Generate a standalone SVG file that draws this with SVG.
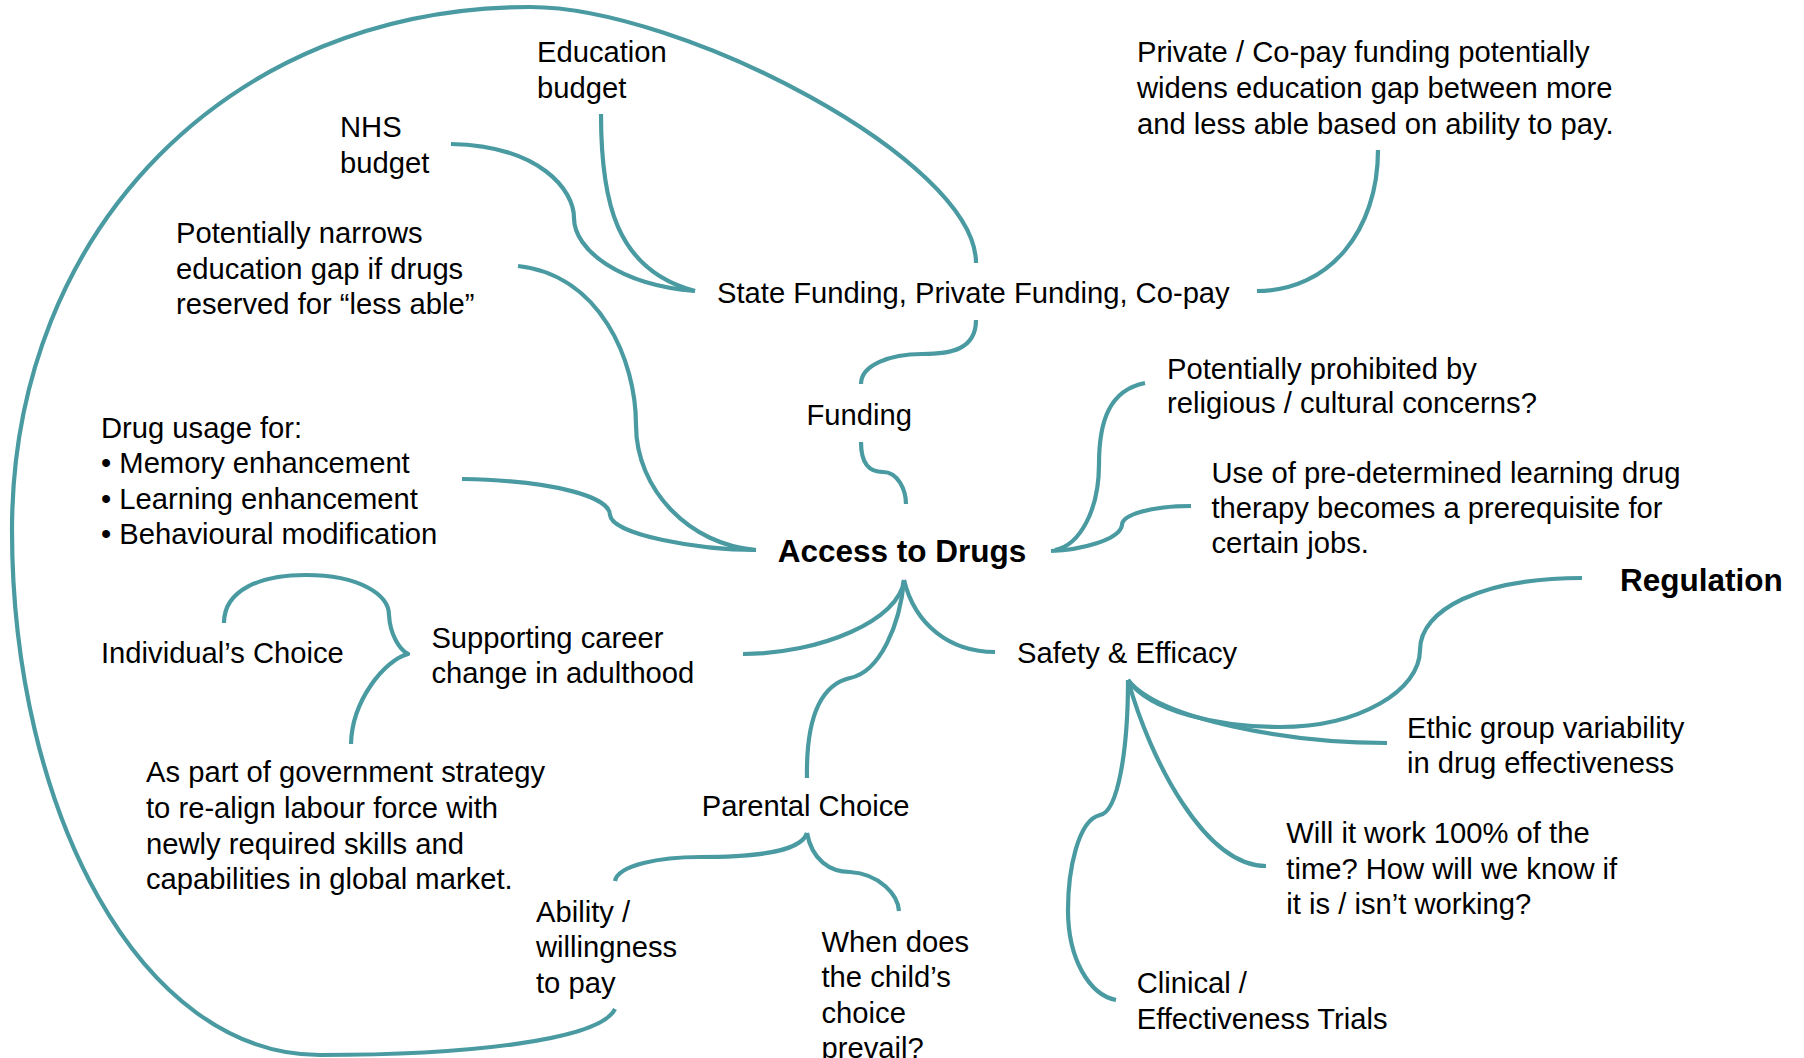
<svg xmlns="http://www.w3.org/2000/svg" width="1804" height="1058" viewBox="0 0 1804 1058">
<style>
  .t { font-family: "Liberation Sans", Arial, sans-serif; font-size: 29.2px; fill: #000; }
  .b { font-family: "Liberation Sans", Arial, sans-serif; font-size: 31.5px; font-weight: bold; fill: #000; }
  .c { fill: none; stroke: #4A9AA2; stroke-width: 4.2; stroke-linecap: butt; stroke-linejoin: round; }
</style>
<rect width="1804" height="1058" fill="#fff"/>
<g id="connectors">
  <path class="c" d="M615,1009 C600,1040 470,1055 320,1055 C140,1055 12,810 12,530 C12,230 230,7 530,7 C680,7 976,160 976,263"/>
  <path class="c" d="M601,114 C601,200 615,270 695,291"/>
  <path class="c" d="M451,144 C540,146 574,190 574,218 C574,250 620,285 695,291"/>
  <path class="c" d="M518,266 C600,275 636,360 636,425 C636,490 690,545 756,550"/>
  <path class="c" d="M462,479 C560,481 610,498 610,515 C612,535 700,550 756,550"/>
  <path class="c" d="M976,320 C976,350 950,354 922,354 C890,354 861,365 861,384"/>
  <path class="c" d="M861,442 C861,465 870,472 883,472 C898,472 906,490 906,504"/>
  <path class="c" d="M1378,150 C1378,230 1330,291 1257,291"/>
  <path class="c" d="M1145,383 C1110,390 1099,420 1099,464 C1099,510 1080,545 1055,550"/>
  <path class="c" d="M1191,506 C1150,506 1122,515 1122,525 C1120,540 1080,550 1051,551"/>
  <path class="c" d="M743,654 C820,654 900,620 904,580"/>
  <path class="c" d="M807,778 C806,720 820,685 850,678 C880,672 900,625 904,580"/>
  <path class="c" d="M904,580 C915,625 950,652 995,652"/>
  <path class="c" d="M807,833 C800,855 740,857 700,857 C660,857 618,865 615,881"/>
  <path class="c" d="M807,833 C812,860 830,872 850,872 C880,874 898,895 899,911"/>
  <path class="c" d="M224,623 C224,590 260,575 306,575 C360,575 389,595 389,615 C390,635 400,650 408,654 C385,660 352,700 351,744"/>
  <path class="c" d="M1128,680 C1150,712 1220,727 1280,727 C1360,727 1420,690 1420,650 C1420,610 1480,578 1582,578"/>
  <path class="c" d="M1128,680 C1160,720 1290,743 1387,743"/>
  <path class="c" d="M1128,680 C1150,760 1205,866 1266,866"/>
  <path class="c" d="M1128,680 C1128,750 1118,812 1100,815 C1078,820 1068,870 1068,910 C1068,960 1090,995 1116,1000"/>
</g>
<g id="education-budget"><text class="t" x="537" y="62">Education</text><text class="t" x="537" y="98">budget</text></g>
<g id="nhs-budget"><text class="t" x="340" y="137">NHS</text><text class="t" x="340" y="173">budget</text></g>
<g id="narrows-gap"><text class="t" x="176" y="243">Potentially narrows</text><text class="t" x="176" y="278.5">education gap if drugs</text><text class="t" x="176" y="314">reserved for “less able”</text></g>
<g id="funding-types"><text class="t" x="717" y="302.6">State Funding, Private Funding, Co-pay</text></g>
<g id="widens-gap"><text class="t" x="1137" y="62">Private / Co-pay funding potentially</text><text class="t" x="1137" y="98">widens education gap between more</text><text class="t" x="1137" y="133.5">and less able based on ability to pay.</text></g>
<g id="funding"><text class="t" x="806.5" y="424.6">Funding</text></g>
<g id="religious"><text class="t" x="1167" y="378.6">Potentially prohibited by</text><text class="t" x="1167" y="413">religious / cultural concerns?</text></g>
<g id="drug-usage"><text class="t" x="101" y="438.4">Drug usage for:</text><text class="t" x="101" y="473">• Memory enhancement</text><text class="t" x="101" y="508.6">• Learning enhancement</text><text class="t" x="101" y="544.2">• Behavioural modification</text></g>
<g id="prerequisite"><text class="t" x="1211.5" y="483.3">Use of pre-determined learning drug</text><text class="t" x="1211.5" y="517.8">therapy becomes a prerequisite for</text><text class="t" x="1211.5" y="553.4">certain jobs.</text></g>
<g id="access-to-drugs"><text class="b" x="777.7" y="562.3">Access to Drugs</text></g>
<g id="regulation"><text class="b" x="1620" y="591">Regulation</text></g>
<g id="individual-choice"><text class="t" x="101" y="662.7">Individual’s Choice</text></g>
<g id="career-change"><text class="t" x="431.4" y="647.8">Supporting career</text><text class="t" x="431.4" y="683.4">change in adulthood</text></g>
<g id="safety-efficacy"><text class="t" x="1017" y="662.7">Safety &amp; Efficacy</text></g>
<g id="ethic-group"><text class="t" x="1407" y="737.5">Ethic group variability</text><text class="t" x="1407" y="773.2">in drug effectiveness</text></g>
<g id="government-strategy"><text class="t" x="146" y="782.4">As part of government strategy</text><text class="t" x="146" y="818">to re-align labour force with</text><text class="t" x="146" y="853.7">newly required skills and</text><text class="t" x="146" y="889.4">capabilities in global market.</text></g>
<g id="parental-choice"><text class="t" x="701.8" y="815.8">Parental Choice</text></g>
<g id="will-it-work"><text class="t" x="1286.3" y="843.4">Will it work 100% of the</text><text class="t" x="1286.3" y="879">time? How will we know if</text><text class="t" x="1286.3" y="913.5">it is / isn’t working?</text></g>
<g id="ability-to-pay"><text class="t" x="536" y="921.6">Ability /</text><text class="t" x="536" y="957.3">willingness</text><text class="t" x="536" y="993">to pay</text></g>
<g id="child-choice"><text class="t" x="821.5" y="951.5">When does</text><text class="t" x="821.5" y="987">the child’s</text><text class="t" x="821.5" y="1022.6">choice</text><text class="t" x="821.5" y="1057.5">prevail?</text></g>
<g id="clinical-trials"><text class="t" x="1136.7" y="993">Clinical /</text><text class="t" x="1136.7" y="1028.6">Effectiveness Trials</text></g>
</svg>
